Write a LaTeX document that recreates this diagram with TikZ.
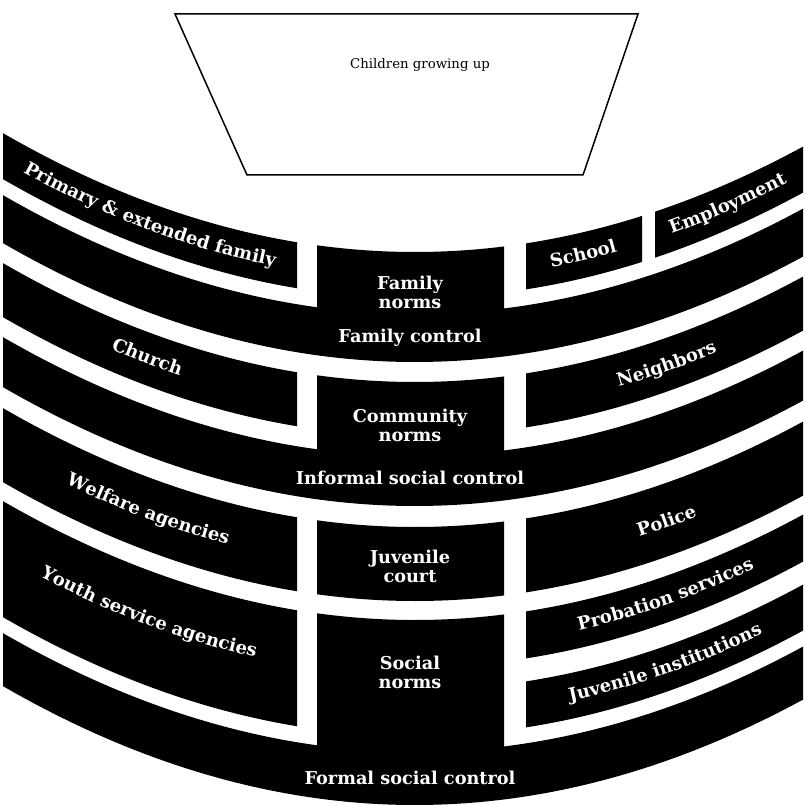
\documentclass[tikz,border=0pt]{standalone}
\usepackage{fontspec}
\setmainfont{DejaVu Serif}
\usetikzlibrary{decorations.text}
\pgfmathdeclarefunction{cv}{2}{\pgfmathparse{#1+7*((#2-415)/100)^2}}
\newcommand\labfont{\bfseries\fontsize{17.7}{19}\selectfont}
\newcommand\curvfont{\bfseries\fontsize{18}{19}\selectfont}
\newcommand\bandfill[4]{\fill[blk] plot[domain=#1:#2,samples=50] ({\x},{cv(#3,\x)}) -- plot[domain=#2:#1,samples=50] ({\x},{cv(#4,\x)}) -- cycle;}
\newcommand\curvelab[4]{\path[decorate,decoration={text along path,text align=center,text={|\curvfont\color{white}|#4}}] plot[domain=#1:#2,samples=80] ({\x},{cv(#3,\x)});}
\tikzset{
  blk/.style={fill=black},
  lab/.style={text=white,font=\labfont,align=center,inner sep=0pt},
  funnel/.style={draw=black,line width=1.5pt,line join=miter}
}
\begin{document}
\begin{tikzpicture}[x=1pt,y=1pt]
\useasboundingbox (0,0) rectangle (805,804);
\clip (0,0) rectangle (805,804);
% top trapezoid
\draw[funnel] (175,790) -- (638,790) -- (583,629) -- (247,629) -- cycle;
\node[font=\fontsize{13.3}{15}\selectfont,inner sep=0pt] (kids) at (420,739) {Children growing up};
% row 1
\bandfill{3}{297}{552}{506}
\bandfill{526}{642}{552}{506}
\bandfill{655}{803}{552}{506}
% family norms + family control
\fill[blk] plot[domain=3:317,samples=50] ({\x},{cv(490,\x)}) -- plot[domain=317:504,samples=30] ({\x},{cv(552,\x)}) -- plot[domain=504:803,samples=50] ({\x},{cv(490,\x)}) -- plot[domain=803:3,samples=80] ({\x},{cv(442,\x)}) -- cycle;
% row 2
\bandfill{3}{297}{422}{368}
\bandfill{526}{803}{422}{368}
% community norms + informal
\fill[blk] plot[domain=3:317,samples=50] ({\x},{cv(348,\x)}) -- plot[domain=317:504,samples=30] ({\x},{cv(422,\x)}) -- plot[domain=504:803,samples=50] ({\x},{cv(348,\x)}) -- plot[domain=803:3,samples=80] ({\x},{cv(298,\x)}) -- cycle;
% row 3
\bandfill{3}{297}{277}{203}
\bandfill{317}{504}{277}{203}
\bandfill{526}{803}{277}{203}
% row 4
\bandfill{3}{297}{184}{68}
\bandfill{526}{803}{184}{137}
\bandfill{526}{803}{114}{68}
% social norms + formal
\fill[blk] plot[domain=3:317,samples=50] ({\x},{cv(52,\x)}) -- plot[domain=317:504,samples=30] ({\x},{cv(184,\x)}) -- plot[domain=504:803,samples=50] ({\x},{cv(52,\x)}) -- plot[domain=803:3,samples=80] ({\x},{cv(-1,\x)}) -- cycle;
% centre labels
\node[lab] (fnorms) at (410,512) {Family\\norms};
\node[lab] (fctl) at (410,466) {Family control};
\node[lab] (cnorms) at (410,379) {Community\\norms};
\node[lab] (ictl) at (410,326) {Informal social control};
\node[lab] (jcourt) at (410,238) {Juvenile\\court};
\node[lab] (snorms) at (410,132) {Social\\norms};
\node[lab] (fmctl) at (410,26) {Formal social control};
% curved labels
\curvelab{3}{297}{524}{Primary {\&} extended family}
\curvelab{526}{642}{524}{School}
\curvelab{655}{803}{524}{Employment}
\curvelab{3}{297}{390}{Church}
\curvelab{526}{803}{388}{Neighbors}
\curvelab{3}{297}{235}{Welfare agencies}
\curvelab{526}{803}{232}{Police}
\curvelab{3}{297}{129}{Youth service agencies}
\curvelab{526}{803}{155}{Probation services}
\curvelab{526}{803}{86}{Juvenile institutions}
\end{tikzpicture}
\end{document}
